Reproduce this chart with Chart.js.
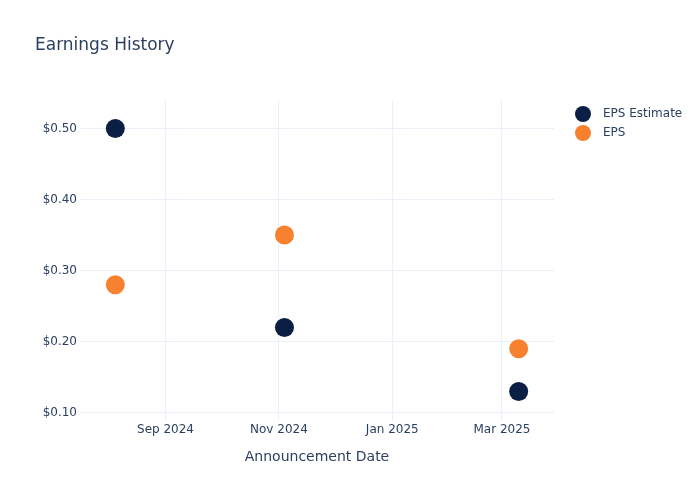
<!DOCTYPE html>
<html>
<head>
<meta charset="utf-8">
<script src="https://cdn.jsdelivr.net/npm/chart.js@4.4.1/dist/chart.umd.min.js"></script>
<style>
  html, body { margin: 0; padding: 0; background: #fff; }
  #wrap { width: 700px; height: 500px; position: relative; }
</style>
</head>
<body>
<div id="wrap"><canvas id="chart" width="700" height="500"></canvas></div>
<script>
// announcement dates + eps values
const announceDates = ['2024-08-05', '2024-11-04', '2025-03-10'];
const epsEstimate = [0.50, 0.22, 0.13];
const epsActual = [0.28, 0.35, 0.19];

// tick labels
const xTickDates = ['2024-09-01', '2024-11-01', '2025-01-01', '2025-03-01'];
const xTickLabels = ['Sep 2024', 'Nov 2024', 'Jan 2025', 'Mar 2025'];
const yTickValues = [0.10, 0.20, 0.30, 0.40, 0.50];

const seriesNames = ['EPS Estimate', 'EPS'];
const seriesColors = ['#0B1F44', '#F7812F'];

const textColor = '#2a3f5f';
const gridColor = '#EBF0F8';
const FONT = "'DejaVu Sans', Verdana, sans-serif";

const toMs = (s) => Date.parse(s);
const xTicksMs = xTickDates.map(toMs);

function points(values) {
  return announceDates.map((d, i) => ({ x: toMs(d), y: values[i] }));
}

// legend drawn like plotly's (top right, outside the plot)
const sideLegend = {
  id: 'sideLegend',
  afterDraw(chart) {
    const ctx = chart.ctx;
    ctx.save();
    chart.data.datasets.forEach((ds, i) => {
      const cy = 114 + i * 19;
      ctx.beginPath();
      ctx.arc(583, cy, 8, 0, Math.PI * 2);
      ctx.fillStyle = ds.backgroundColor;
      ctx.fill();
      ctx.fillStyle = textColor;
      ctx.font = `12px ${FONT}`;
      ctx.textBaseline = 'middle';
      ctx.textAlign = 'left';
      ctx.fillText(ds.label, 603, cy);
    });
    ctx.restore();
  }
};

const ctx = document.getElementById('chart').getContext('2d');
new Chart(ctx, {
  type: 'scatter',
  data: {
    datasets: [
      {
        label: seriesNames[0],
        data: points(epsEstimate),
        backgroundColor: seriesColors[0],
        borderColor: seriesColors[0],
        pointRadius: 9.5,
        pointHoverRadius: 9.5,
        borderWidth: 0,
      },
      {
        label: seriesNames[1],
        data: points(epsActual),
        backgroundColor: seriesColors[1],
        borderColor: seriesColors[1],
        pointRadius: 9.5,
        pointHoverRadius: 9.5,
        borderWidth: 0,
      },
    ],
  },
  options: {
    responsive: false,
    animation: false,
    layout: { padding: { left: 35, right: 146, top: 0, bottom: 34 } },
    plugins: {
      legend: { display: false },
      tooltip: { enabled: false },
      title: {
        display: true,
        text: 'Earnings History',
        align: 'start',
        color: textColor,
        font: { family: FONT, size: 17, weight: 'normal' },
        padding: { top: 35, bottom: 45 },
      },
    },
    scales: {
      x: {
        type: 'linear',
        min: toMs('2024-07-17'),
        max: toMs('2025-03-29'),
        afterBuildTicks: (axis) => { axis.ticks = xTicksMs.map(v => ({ value: v })); },
        ticks: {
          autoSkip: false,
          maxRotation: 0,
          padding: 2,
          color: textColor,
          font: { family: FONT, size: 12 },
          callback: (value) => xTickLabels[xTicksMs.indexOf(value)] || '',
        },
        grid: { color: gridColor, lineWidth: 1, drawTicks: false },
        border: { display: false },
        title: {
          display: true,
          text: 'Announcement Date',
          color: textColor,
          font: { family: FONT, size: 14 },
          padding: { top: 10, bottom: 0 },
        },
      },
      y: {
        type: 'linear',
        min: 0.0887,
        max: 0.5394,
        afterBuildTicks: (axis) => { axis.ticks = yTickValues.map(v => ({ value: v })); },
        afterFit: (axis) => { axis.width = 45; },
        ticks: {
          padding: 3,
          color: textColor,
          font: { family: FONT, size: 12 },
          callback: (value) => '$' + Number(value).toFixed(2),
        },
        grid: { color: gridColor, lineWidth: 1, drawTicks: false },
        border: { display: false },
      },
    },
  },
  plugins: [sideLegend],
});
</script>
</body>
</html>
